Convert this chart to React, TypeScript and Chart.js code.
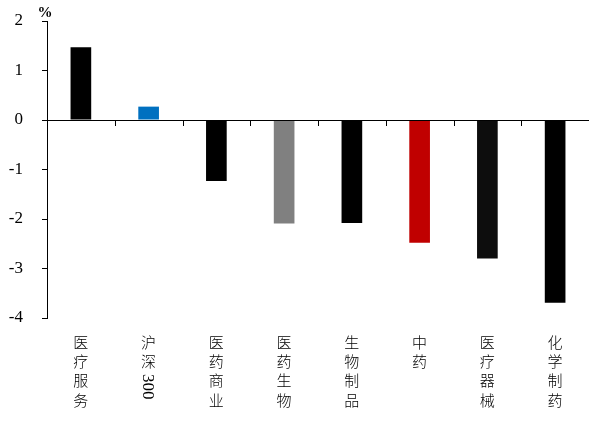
import React, { useEffect, useRef } from "react";
import { Chart, registerables } from "chart.js";

Chart.register(...registerables);

const categories = ["医疗服务", "沪深300", "医药商业", "医药生物", "生物制品", "中药", "医疗器械", "化学制药"];
const values = [1.47, 0.27, -1.23, -2.09, -2.08, -2.48, -2.8, -3.69];
const barColors = ["#000000", "#0070C0", "#000000", "#808080", "#000000", "#C00000", "#0D0D0D", "#000000"];
const yMin = -4;
const yMax = 2;
const unitLabel = "%";

const xAxisPlugin = {
  id: "customXAxis",
  afterDraw(chart: any) {
    const ctx = chart.ctx;
    const x = chart.scales.x;
    const y = chart.scales.y;
    const area = chart.chartArea;
    const y0 = y.getPixelForValue(0);
    ctx.save();
    ctx.strokeStyle = "#000";
    ctx.lineWidth = 1;
    ctx.beginPath();
    ctx.moveTo(area.left, Math.round(y0) + 0.5);
    ctx.lineTo(area.right, Math.round(y0) + 0.5);
    ctx.stroke();
    const n = categories.length;
    const w = (area.right - area.left) / n;
    ctx.beginPath();
    for (let i = 1; i < n; i++) {
      const px = Math.round(area.left + i * w) + 0.5;
      ctx.moveTo(px, y0);
      ctx.lineTo(px, y0 + 6);
    }
    ctx.stroke();
    ctx.fillStyle = "#000";
    ctx.textAlign = "center";
    ctx.textBaseline = "middle";
    const startY = 342;
    const pitch = 19.3;
    categories.forEach((label, i) => {
      const cx = x.getPixelForValue(i);
      let row = 0;
      let digits = "";
      const chars = Array.from(label);
      const flushDigits = () => {
        if (!digits) return;
        ctx.save();
        ctx.font = "17px 'Liberation Serif', serif";
        const tw = ctx.measureText(digits).width;
        const cy = startY + row * pitch - pitch / 2 + 3 + tw / 2;
        ctx.translate(cx, cy);
        ctx.rotate(Math.PI / 2);
        ctx.fillText(digits, 0, 1);
        ctx.restore();
        digits = "";
      };
      chars.forEach((ch) => {
        if (/[0-9A-Za-z]/.test(ch)) {
          digits += ch;
        } else {
          flushDigits();
          ctx.font = "300 15px 'Noto Sans CJK SC', sans-serif";
          ctx.fillText(ch, cx, startY + row * pitch);
          row++;
        }
      });
      flushDigits();
    });
    ctx.font = "bold 15px 'Liberation Serif', serif";
    ctx.textAlign = "center";
    ctx.textBaseline = "middle";
    ctx.fillText(unitLabel, 45, 13);
    ctx.restore();
  },
};

export default function App() {
  const ref = useRef<HTMLCanvasElement>(null);
  useEffect(() => {
    document.body.style.margin = "0";
    const chart = new Chart(ref.current!, {
      type: "bar",
      data: {
        labels: categories,
        datasets: [
          {
            data: values,
            backgroundColor: barColors,
            borderWidth: 0,
            barPercentage: 0.305,
            categoryPercentage: 1,
          },
        ],
      },
      options: {
        responsive: false,
        animation: false,
        events: [],
        layout: { padding: { top: 21, bottom: 103, left: 0, right: 0 } },
        plugins: { legend: { display: false }, tooltip: { enabled: false } },
        scales: {
          x: {
            display: false,
            offset: true,
            grid: { display: false },
          },
          y: {
            min: yMin,
            max: yMax,
            afterFit(scale: any) {
              scale.width = 47;
              scale.paddingTop = 0;
              scale.paddingBottom = 0;
            },
            ticks: {
              stepSize: 1,
              color: "#000",
              padding: 19,
              font: { family: "'Liberation Serif', serif", size: 17 },
            },
            grid: {
              drawOnChartArea: false,
              drawTicks: true,
              tickLength: 5,
              color: "#000",
            },
            border: { display: true, color: "#000", width: 1 },
          },
        },
      },
      plugins: [xAxisPlugin],
    });
    return () => chart.destroy();
  }, []);
  return (
    <div style={{ position: "absolute", left: 0, top: 0, width: 589, height: 421 }}>
      <canvas ref={ref} width={589} height={421} style={{ width: 589, height: 421, display: "block" }} />
    </div>
  );
}
